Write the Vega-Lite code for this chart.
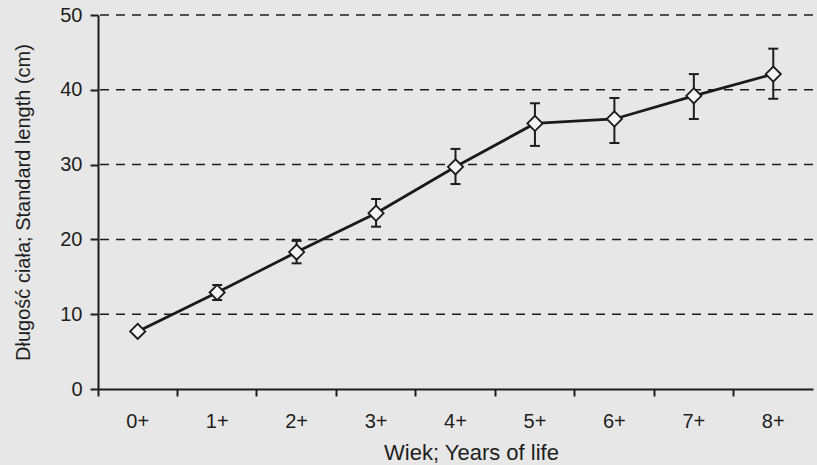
{
  "$schema": "https://vega.github.io/schema/vega-lite/v6.json",
  "autosize": "none",
  "width": 715,
  "height": 374,
  "padding": {"left": 98, "top": 15, "right": 4, "bottom": 76},
  "background": "#e7e7e7",
  "config": {
    "view": {"stroke": null},
    "font": "Liberation Sans",
    "axis": {
      "labelFont": "Liberation Sans",
      "titleFont": "Liberation Sans",
      "labelFontSize": 20,
      "titleFontSize": 20,
      "titleFontWeight": "normal",
      "labelColor": "#1e1e1e",
      "titleColor": "#1e1e1e",
      "domainColor": "#1e1e1e",
      "tickColor": "#1e1e1e",
      "domainWidth": 2,
      "tickWidth": 2
    }
  },
  "data": {
    "values": [
      {"age": "0+", "mean": 7.7, "lo": 7.4, "hi": 8.0},
      {"age": "1+", "mean": 12.9, "lo": 11.9, "hi": 13.9},
      {"age": "2+", "mean": 18.3, "lo": 16.8, "hi": 19.8},
      {"age": "3+", "mean": 23.5, "lo": 21.7, "hi": 25.4},
      {"age": "4+", "mean": 29.7, "lo": 27.4, "hi": 32.1},
      {"age": "5+", "mean": 35.5, "lo": 32.5, "hi": 38.2},
      {"age": "6+", "mean": 36.1, "lo": 32.9, "hi": 38.9},
      {"age": "7+", "mean": 39.2, "lo": 36.1, "hi": 42.1},
      {"age": "8+", "mean": 42.1, "lo": 38.8, "hi": 45.5}
    ]
  },
  "encoding": {
    "x": {
      "field": "age",
      "type": "ordinal",
      "scale": {"type": "band", "paddingInner": 0, "paddingOuter": 0},
      "axis": {
        "title": "Wiek; Years of life",
        "titleFontSize": 22,
        "titleX": 373,
        "labelAngle": 0,
        "bandPosition": 0,
        "tickSize": 7,
        "labelPadding": 15,
        "titlePadding": 11,
        "grid": false
      }
    }
  },
  "layer": [
    {
      "mark": {"type": "rule", "stroke": "#1e1e1e", "strokeWidth": 1.5, "strokeDash": [9, 7]},
      "data": {"values": [{"g": 10}, {"g": 20}, {"g": 30}, {"g": 40}, {"g": 50}]},
      "encoding": {
        "x": null,
        "y": {"field": "g", "type": "quantitative", "scale": {"domain": [0, 50]}}
      }
    },
    {
      "mark": {"type": "rule", "stroke": "#1e1e1e", "strokeWidth": 2},
      "encoding": {
        "y": {
          "field": "lo",
          "type": "quantitative",
          "scale": {"domain": [0, 50], "nice": false},
          "axis": {
            "title": "Długość ciała; Standard length (cm)",
            "values": [0, 10, 20, 30, 40, 50],
            "grid": false,
            "tickSize": 8,
            "labelPadding": 8,
            "titlePadding": 26
          }
        },
        "y2": {"field": "hi"}
      }
    },
    {
      "mark": {"type": "tick", "color": "#1e1e1e", "thickness": 2, "size": 10, "opacity": 1},
      "encoding": {"y": {"field": "lo", "type": "quantitative"}}
    },
    {
      "mark": {"type": "tick", "color": "#1e1e1e", "thickness": 2, "size": 10, "opacity": 1},
      "encoding": {"y": {"field": "hi", "type": "quantitative"}}
    },
    {
      "mark": {"type": "line", "stroke": "#1a1a1a", "strokeWidth": 2.8},
      "encoding": {"y": {"field": "mean", "type": "quantitative"}}
    },
    {
      "mark": {
        "type": "point",
        "shape": "diamond",
        "size": 230,
        "filled": true,
        "fill": "#f4f4f4",
        "stroke": "#1a1a1a",
        "strokeWidth": 1.8,
        "opacity": 1
      },
      "encoding": {"y": {"field": "mean", "type": "quantitative"}}
    }
  ]
}
